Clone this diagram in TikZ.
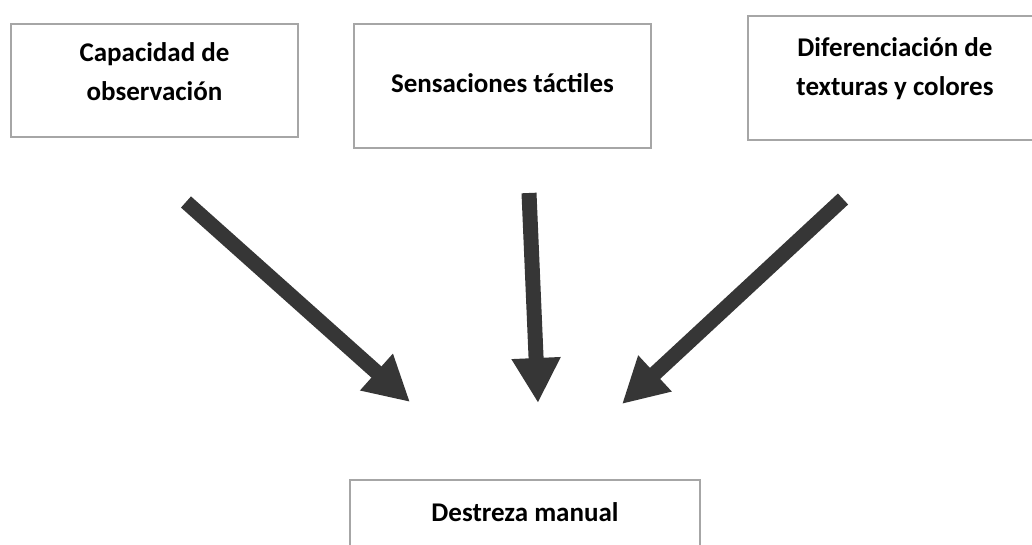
\documentclass[tikz,border=0pt]{standalone}
\usepackage{fontspec}
\setmainfont{Carlito}
\usetikzlibrary{arrows.meta}
\definecolor{flechagris}{RGB}{54,54,54}
\begin{document}
\begin{tikzpicture}[
x=1pt, y=-1pt,
caja/.style={rectangle, draw=black!35, line width=2pt, inner sep=0pt, anchor=north west, align=center, font=\bfseries\fontsize{27}{39}\selectfont},
flecha/.style={draw=flechagris, fill=flechagris, line width=15pt, -{Triangle[width=46pt, length=45pt]}},
]
\useasboundingbox (0,0) rectangle (1032,545);
\clip (0,0) rectangle (1032,545);
\node[caja, minimum width=287pt, text height=77pt, text depth=36pt] (obs) at (10,23) {Capacidad de\\observación};
\node[caja, minimum width=297pt, text height=69pt, text depth=55pt] (tact) at (353,23) {Sensaciones táctiles};
\node[caja, minimum width=294pt, text height=80pt, text depth=44pt] (dif) at (747,15) {Diferenciación de\\texturas y colores};
\node[caja, minimum width=350pt, text height=41pt, text depth=40pt] (dest) at (349,479) {Destreza manual};
\coordinate (obs-ini) at (186,202);
\coordinate (obs-fin) at (410,402);
\coordinate (tact-ini) at (529,193);
\coordinate (tact-fin) at (538,403);
\coordinate (dif-ini) at (843,199);
\coordinate (dif-fin) at (622,404);
\draw[flecha] (obs-ini) -- (obs-fin);
\draw[flecha] (tact-ini) -- (tact-fin);
\draw[flecha] (dif-ini) -- (dif-fin);
\end{tikzpicture}
\end{document}
